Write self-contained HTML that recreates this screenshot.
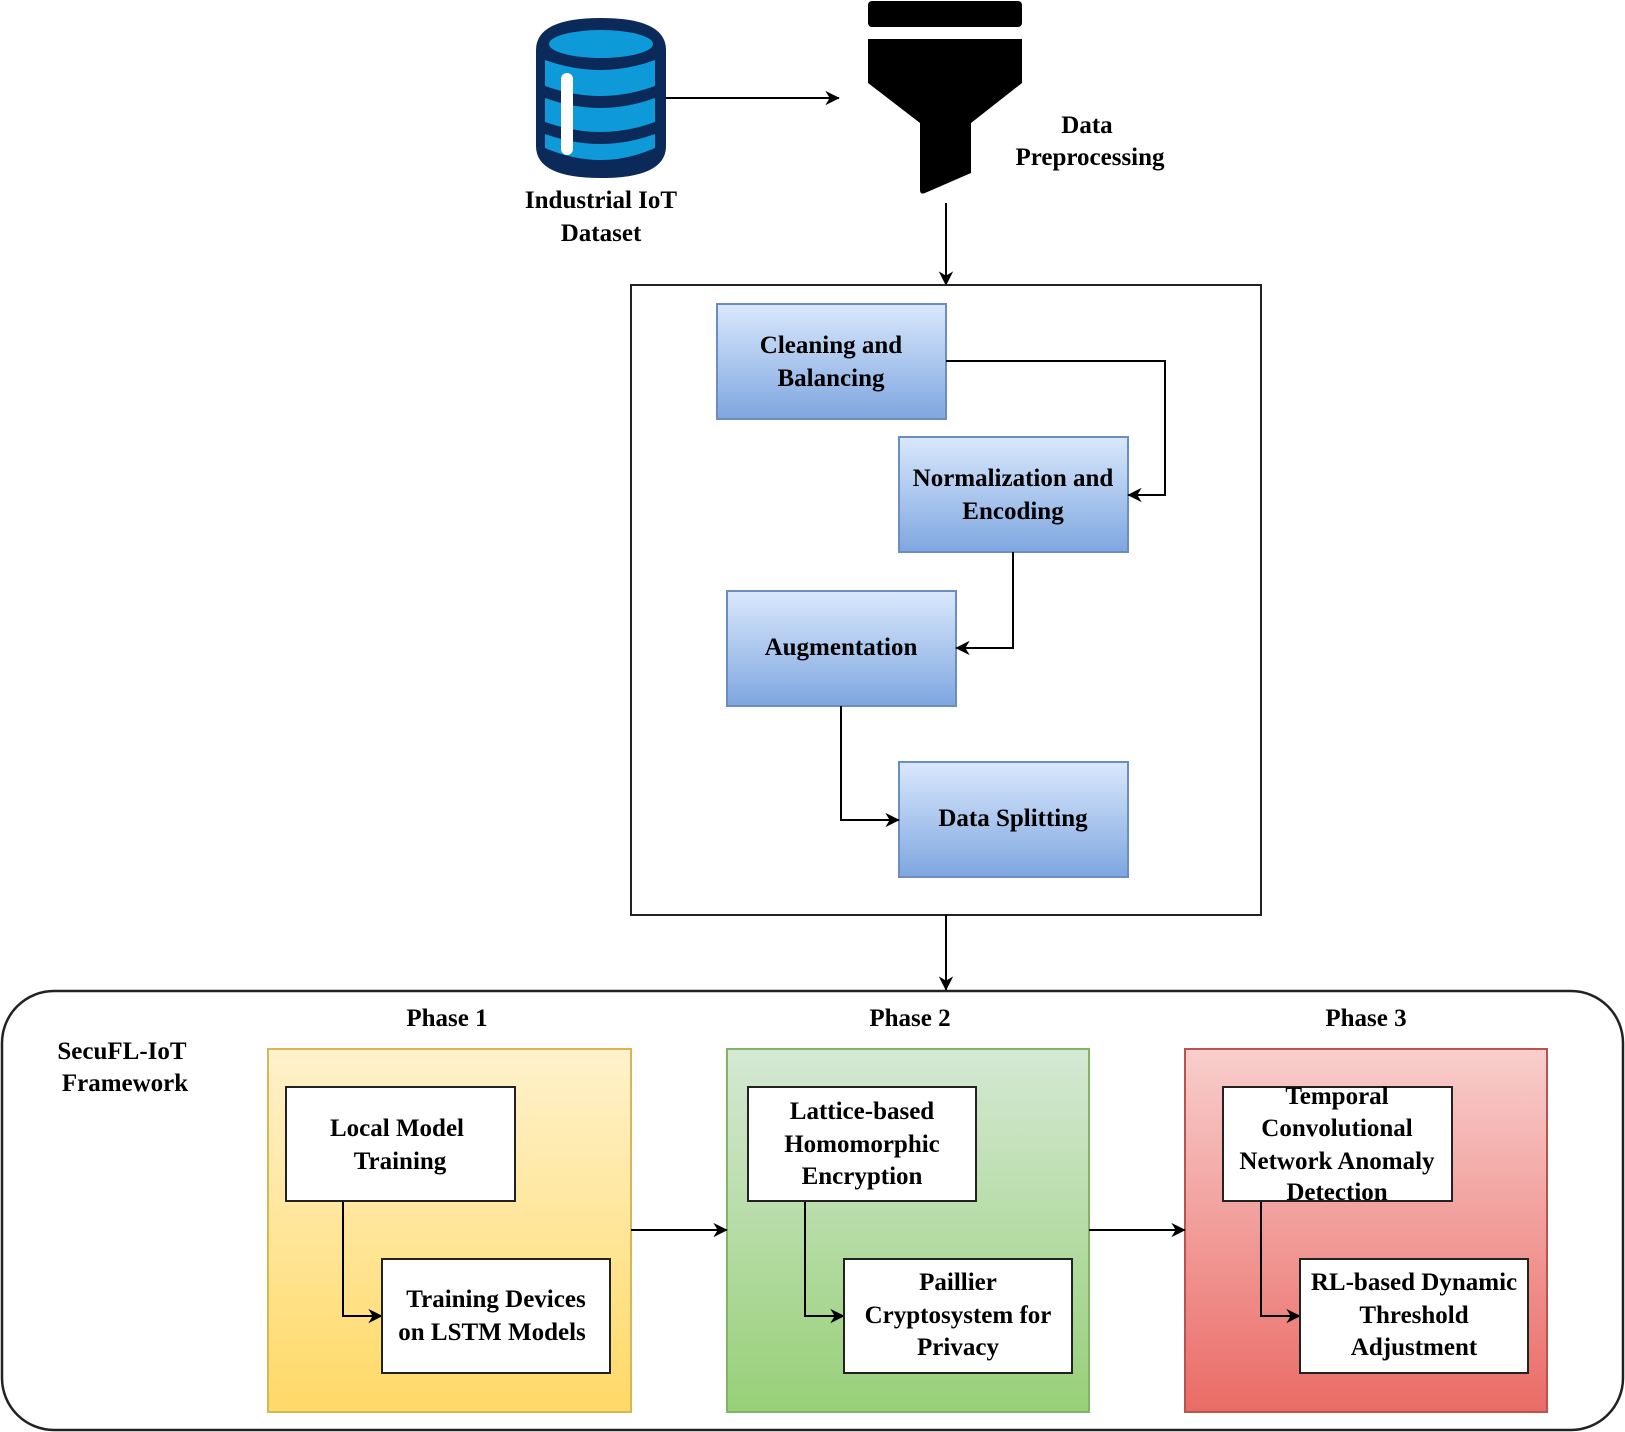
<!DOCTYPE html>
<html><head><meta charset="utf-8"><style>
html,body{margin:0;padding:0;background:#fff;}
svg{display:block;}
text{font-family:"Liberation Serif","DejaVu Serif",serif;font-weight:bold;font-size:25px;fill:#000;}
</style></head><body>
<svg width="1625" height="1432" viewBox="0 0 1625 1432" xmlns="http://www.w3.org/2000/svg" font-family="Liberation Serif, serif" font-weight="bold">
<defs>
<linearGradient id="gb" x1="0" y1="0" x2="0" y2="1"><stop offset="0" stop-color="#dae8fc"/><stop offset="1" stop-color="#7ea6e0"/></linearGradient>
<linearGradient id="gy" x1="0" y1="0" x2="0" y2="1"><stop offset="0" stop-color="#fff2cc"/><stop offset="1" stop-color="#ffd966"/></linearGradient>
<linearGradient id="gg" x1="0" y1="0" x2="0" y2="1"><stop offset="0" stop-color="#d5e8d4"/><stop offset="1" stop-color="#97d077"/></linearGradient>
<linearGradient id="gr" x1="0" y1="0" x2="0" y2="1"><stop offset="0" stop-color="#f8cecc"/><stop offset="1" stop-color="#ea6b66"/></linearGradient>
<marker id="ar" viewBox="0 0 10 10" refX="9" refY="5" markerWidth="8" markerHeight="8" markerUnits="userSpaceOnUse" orient="auto" overflow="visible">
<path d="M0,0 L10,5 L0,10 L3,5 Z" fill="#000" transform="scale(1.8) translate(-4.5,-2.2)"/>
</marker>
</defs>

<g>
<path d="M536,50 Q536,18 601,18 Q666,18 666,50 L666,146 Q666,178 601,178 Q536,178 536,146 Z" fill="#0b2a5a"/>
<ellipse cx="601" cy="44" rx="52" ry="14" fill="#0e9ad8"/>
<path d="M545,60 Q601,80 655,60 L655,86 Q601,106 545,86 Z" fill="#0e9ad8"/>
<path d="M545,98 Q601,118 655,98 L655,122 Q601,142 545,122 Z" fill="#0e9ad8"/>
<path d="M545,134 Q601,154 655,134 L655,148 Q601,172 545,148 Z" fill="#0e9ad8"/>
<rect x="561" y="73" width="12" height="82" rx="6" fill="#fff"/>
</g>
<text x="601" y="208" text-anchor="middle">Industrial IoT</text>
<text x="601" y="241" text-anchor="middle">Dataset</text>

<line x1="666" y1="98" x2="839" y2="98" stroke="#000" stroke-width="2" marker-end="url(#ar)"/>

<rect x="868" y="1" width="154" height="26" rx="4" fill="#000"/>
<path d="M868,39 L1022,39 L1022,83 L971,123 L971,173 L925,193 Q920,195 920,190 L920,123 L868,83 Z" fill="#000"/>
<text x="1087" y="133" text-anchor="middle">Data</text>
<text x="1090" y="165" text-anchor="middle">Preprocessing</text>

<line x1="946" y1="203" x2="946" y2="285" stroke="#000" stroke-width="2" marker-end="url(#ar)"/>

<rect x="631" y="285" width="630" height="630" fill="#fff" stroke="#222" stroke-width="2"/>
<rect x="717" y="304" width="229" height="115" fill="url(#gb)" stroke="#6c8ebf" stroke-width="2"/>
<text x="831" y="353" text-anchor="middle">Cleaning and</text>
<text x="831" y="386" text-anchor="middle">Balancing</text>
<rect x="899" y="437" width="229" height="115" fill="url(#gb)" stroke="#6c8ebf" stroke-width="2"/>
<text x="1013" y="486" text-anchor="middle">Normalization and</text>
<text x="1013" y="519" text-anchor="middle">Encoding</text>
<rect x="727" y="591" width="229" height="115" fill="url(#gb)" stroke="#6c8ebf" stroke-width="2"/>
<text x="841" y="655" text-anchor="middle">Augmentation</text>
<rect x="899" y="762" width="229" height="115" fill="url(#gb)" stroke="#6c8ebf" stroke-width="2"/>
<text x="1013" y="826" text-anchor="middle">Data Splitting</text>

<polyline points="946,361 1165,361 1165,495 1128,495" fill="none" stroke="#000" stroke-width="2" marker-end="url(#ar)"/>
<polyline points="1013,552 1013,648 956,648" fill="none" stroke="#000" stroke-width="2" marker-end="url(#ar)"/>
<polyline points="841,706 841,820 899,820" fill="none" stroke="#000" stroke-width="2" marker-end="url(#ar)"/>

<line x1="946" y1="915" x2="946" y2="990" stroke="#000" stroke-width="2" marker-end="url(#ar)"/>

<rect x="2" y="991" width="1621" height="439" rx="52" fill="#fff" stroke="#222" stroke-width="2.5"/>
<text x="122" y="1059" text-anchor="middle">SecuFL-IoT</text>
<text x="125" y="1091" text-anchor="middle">Framework</text>
<text x="447" y="1026" text-anchor="middle">Phase 1</text>
<text x="910" y="1026" text-anchor="middle">Phase 2</text>
<text x="1366" y="1026" text-anchor="middle">Phase 3</text>

<rect x="268" y="1049" width="363" height="363" fill="url(#gy)" stroke="#d6b656" stroke-width="2"/>
<rect x="727" y="1049" width="362" height="363" fill="url(#gg)" stroke="#82b366" stroke-width="2"/>
<rect x="1185" y="1049" width="362" height="363" fill="url(#gr)" stroke="#b85450" stroke-width="2"/>

<line x1="631" y1="1230" x2="727" y2="1230" stroke="#000" stroke-width="2" marker-end="url(#ar)"/>
<line x1="1089" y1="1230" x2="1185" y2="1230" stroke="#000" stroke-width="2" marker-end="url(#ar)"/>

<polyline points="343,1201 343,1316 382,1316" fill="none" stroke="#000" stroke-width="2" marker-end="url(#ar)"/>
<polyline points="805,1201 805,1316 844,1316" fill="none" stroke="#000" stroke-width="2" marker-end="url(#ar)"/>
<polyline points="1261,1201 1261,1316 1300,1316" fill="none" stroke="#000" stroke-width="2" marker-end="url(#ar)"/>

<rect x="286" y="1087" width="229" height="114" fill="#fff" stroke="#222" stroke-width="2"/>
<text x="397" y="1136" text-anchor="middle">Local Model</text>
<text x="400" y="1169" text-anchor="middle">Training</text>
<rect x="382" y="1259" width="228" height="114" fill="#fff" stroke="#222" stroke-width="2"/>
<text x="496" y="1307" text-anchor="middle">Training Devices</text>
<text x="492" y="1340" text-anchor="middle">on LSTM Models</text>

<rect x="748" y="1087" width="228" height="114" fill="#fff" stroke="#222" stroke-width="2"/>
<text x="862" y="1119" text-anchor="middle">Lattice-based</text>
<text x="862" y="1152" text-anchor="middle">Homomorphic</text>
<text x="862" y="1184" text-anchor="middle">Encryption</text>
<rect x="844" y="1259" width="228" height="114" fill="#fff" stroke="#222" stroke-width="2"/>
<text x="958" y="1290" text-anchor="middle">Paillier</text>
<text x="958" y="1323" text-anchor="middle">Cryptosystem for</text>
<text x="958" y="1355" text-anchor="middle">Privacy</text>

<rect x="1223" y="1087" width="229" height="114" fill="#fff" stroke="#222" stroke-width="2"/>
<text x="1337" y="1104" text-anchor="middle">Temporal</text>
<text x="1337" y="1136" text-anchor="middle">Convolutional</text>
<text x="1337" y="1169" text-anchor="middle">Network Anomaly</text>
<text x="1337" y="1200" text-anchor="middle">Detection</text>
<rect x="1300" y="1259" width="228" height="114" fill="#fff" stroke="#222" stroke-width="2"/>
<text x="1414" y="1290" text-anchor="middle">RL-based Dynamic</text>
<text x="1414" y="1323" text-anchor="middle">Threshold</text>
<text x="1414" y="1355" text-anchor="middle">Adjustment</text>
</svg>
</body></html>
